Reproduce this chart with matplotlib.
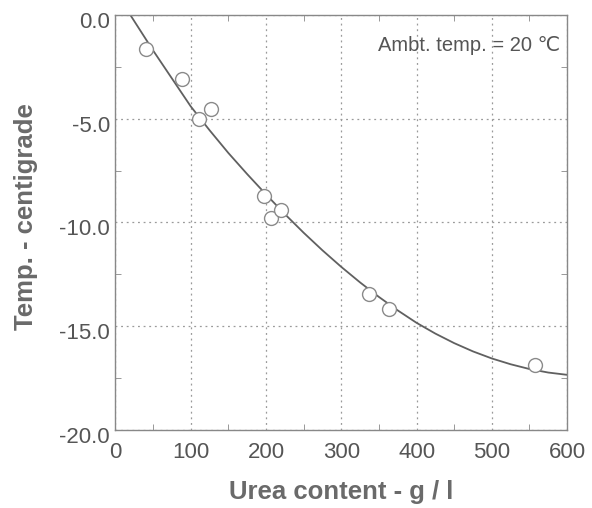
import matplotlib
matplotlib.use("Agg")
import matplotlib.pyplot as plt
import matplotlib.transforms as mtransforms
from matplotlib.ticker import MultipleLocator

plt.rcParams['font.family'] = ['Liberation Sans', 'DejaVu Sans']
plt.rcParams['axes.unicode_minus'] = False

# measured points
urea = [40, 88, 111, 127, 197, 206, 220, 337, 363, 557]
temp = [-1.65, -3.1, -5.0, -4.55, -8.75, -9.8, -9.4, -13.45, -14.2, -16.9]

# fitted curve
curve_x = [20, 50, 75, 100, 125, 150, 175, 200, 225, 250, 275, 300,
           325, 350, 375, 400, 425, 450, 475, 500, 525, 550, 575, 600]
curve_y = [0.0, -1.7, -3.05, -4.4, -5.55, -6.65, -7.67, -8.65, -9.6, -10.5, -11.35, -12.15,
           -12.9, -13.6, -14.25, -14.85, -15.37, -15.83, -16.23, -16.57, -16.85, -17.08, -17.25, -17.36]

xticks = [0, 100, 200, 300, 400, 500, 600]
yticks = [0, -5, -10, -15, -20]
ylabels = ['0.0', '-5.0', '-10.0', '-15.0', '-20.0']

fig = plt.figure(figsize=(5.92, 5.08), dpi=100)
ax = fig.add_axes([0.195, 0.1545, 0.763, 0.8155])

ax.plot(curve_x, curve_y, color='#606060', lw=1.3, zorder=2)
ax.plot(urea, temp, 'o', ms=10, mfc='white', mec='#8a8a8a', mew=1.0, zorder=3)

ax.set_xlim(0, 600)
ax.set_ylim(-20, 0)
ax.set_xticks(xticks)
ax.xaxis.set_minor_locator(MultipleLocator(50))
ax.set_yticks(yticks)
ax.set_yticklabels(ylabels)
ax.yaxis.set_minor_locator(MultipleLocator(2.5))

ax.tick_params(which='both', direction='in', top=True, right=True,
               colors='#888888', labelcolor='#555555')
ax.tick_params(axis='x', which='major', length=0, pad=9, labelsize=16)
ax.tick_params(axis='y', which='major', length=0, pad=4, labelsize=16)
ax.tick_params(which='minor', length=4)

# y labels sit a bit below their grid lines in the original
shift = mtransforms.ScaledTranslation(0, -5 / 100, fig.dpi_scale_trans)
for lab in ax.get_yticklabels():
    lab.set_transform(lab.get_transform() + shift)

ax.grid(True, which='major', ls=(0, (1.5, 3)), color='#9a9a9a', lw=0.9)
for s in ax.spines.values():
    s.set_color('#888888')
    s.set_linewidth(1.0)

ax.set_xlabel('Urea content - g / l', fontsize=18.5, fontweight='bold', color='#6a6a6a', labelpad=12)
ax.set_ylabel('Temp. - centigrade', fontsize=18.5, fontweight='bold', color='#6a6a6a')
ax.yaxis.set_label_coords(-0.172, 0.515)

ax.text(0.985, 0.928, 'Ambt. temp. = 20 \u2103', transform=ax.transAxes,
        ha='right', va='center', fontsize=14.5, color='#555555')

fig.savefig('out.png', dpi=100)
